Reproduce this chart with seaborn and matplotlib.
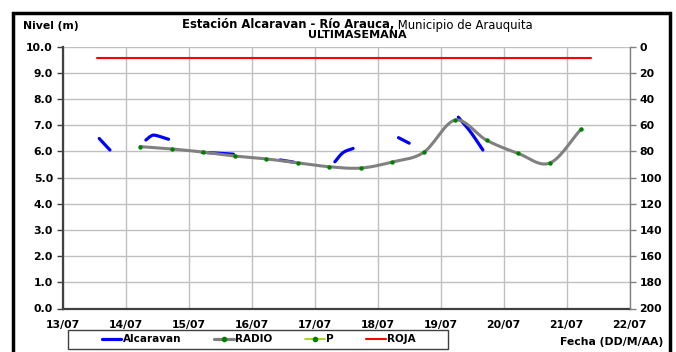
import numpy as np
import pandas as pd
import seaborn as sns
import matplotlib
matplotlib.use("Agg")
import matplotlib.pyplot as plt
from matplotlib.lines import Line2D
from matplotlib.patches import Rectangle

# time axis: days counted from 13/07 00:00
day_labels = ["13/07", "14/07", "15/07", "16/07", "17/07",
              "18/07", "19/07", "20/07", "21/07", "22/07"]

# RADIO series (every 12 h)
t_radio = [1.23, 1.73, 2.23, 2.73, 3.23, 3.73, 4.23, 4.73,
           5.23, 5.73, 6.23, 6.73, 7.23, 7.73, 8.23]
h_radio = [6.18, 6.09, 5.97, 5.82, 5.71, 5.56, 5.41, 5.36,
           5.59, 5.96, 7.19, 6.42, 5.92, 5.55, 6.85]

# Alcaravan series (gaps = NaN)
t_alc = [0.58, 0.66, 0.75, np.nan,
         1.32, 1.40, 1.47, 1.68, np.nan,
         2.21, 2.45, 2.71, np.nan,
         3.45, 3.66, np.nan,
         4.32, 4.45, 4.61, np.nan,
         5.33, 5.50, np.nan,
         6.28, 6.47, 6.67]
h_alc = [6.49, 6.28, 6.05, np.nan,
         6.43, 6.58, 6.61, 6.46, np.nan,
         5.96, 5.93, 5.89, np.nan,
         5.67, 5.59, np.nan,
         5.60, 5.95, 6.11, np.nan,
         6.52, 6.31, np.nan,
         7.30, 6.75, 6.05]

# ROJA alert level
t_roja = [0.54, 8.38]
h_roja = [9.57, 9.57]

# P (precipitation) has no values this week
t_p = []
p_vals = []


def smooth(x, y, n=16):
    # catmull-rom curve, like the smoothed lines of the original
    x = np.asarray(x, float)
    y = np.asarray(y, float)
    if len(x) < 3:
        return x, y
    px = np.r_[2 * x[0] - x[1], x, 2 * x[-1] - x[-2]]
    py = np.r_[2 * y[0] - y[1], y, 2 * y[-1] - y[-2]]
    t = np.linspace(0, 1, n, endpoint=False)[:, None]
    xs, ys = [], []
    for i in range(1, len(px) - 2):
        for p, out in ((px, xs), (py, ys)):
            p0, p1, p2, p3 = p[i - 1], p[i], p[i + 1], p[i + 2]
            c = 0.5 * ((2 * p1) + (-p0 + p2) * t
                       + (2 * p0 - 5 * p1 + 4 * p2 - p3) * t ** 2
                       + (-p0 + 3 * p1 - 3 * p2 + p3) * t ** 3)
            out.extend(c.ravel())
    xs.append(x[-1])
    ys.append(y[-1])
    return np.array(xs), np.array(ys)


# build smoothed frames
rx, ry = smooth(t_radio, h_radio)
radio_df = pd.DataFrame({"t": rx, "h": ry})

rows = []
seg = 0
cur_t, cur_h = [], []
for tt, hh in zip(t_alc + [np.nan], h_alc + [np.nan]):
    if np.isnan(tt):
        sx, sy = smooth(cur_t, cur_h, 10)
        rows.append(pd.DataFrame({"t": sx, "h": sy, "seg": seg}))
        seg += 1
        cur_t, cur_h = [], []
    else:
        cur_t.append(tt)
        cur_h.append(hh)
alc_df = pd.concat(rows, ignore_index=True)

sns.set_theme(style="white")
plt.rcParams["font.family"] = ["DejaVu Sans"]
plt.rcParams["font.weight"] = "bold"
plt.rcParams["text.color"] = "black"

W, H = 676, 352
fig = plt.figure(figsize=(W / 100, H / 100), dpi=100)
ax = fig.add_axes([62.7 / W, 1 - 308.5 / H, (629.7 - 62.7) / W, (308.5 - 46.5) / H])

ax.set_xlim(0, 9)
ax.set_ylim(0, 10)
ax.set_xticks(range(10))
ax.set_xticklabels(day_labels)
ax.set_yticks(np.arange(0, 11, 1))
ax.set_yticklabels([f"{v:.1f}" for v in np.arange(0, 11, 1)])
ax.grid(True, color="#c0c0c0", lw=1)
ax.set_axisbelow(True)

sns.lineplot(data=alc_df, x="t", y="h", units="seg", estimator=None,
             color="#0000ff", lw=2.3, ax=ax, legend=False, sort=False)
sns.lineplot(data=radio_df, x="t", y="h", estimator=None, color="#808080",
             lw=2.2, ax=ax, legend=False, sort=False)
sns.scatterplot(x=t_radio, y=h_radio, color="#008000", s=10, linewidth=0,
                ax=ax, zorder=5, legend=False)
sns.lineplot(x=t_roja, y=h_roja, color="#ff0000", lw=1.5, ax=ax,
             legend=False)
ax.set_xlabel("")
ax.set_ylabel("")

for s in ["top", "right"]:
    ax.spines[s].set_visible(False)
for s in ["left", "bottom"]:
    ax.spines[s].set_color("#404040")
    ax.spines[s].set_linewidth(1.6)
ax.tick_params(axis="both", which="major", direction="out", length=4,
               width=1, color="#404040", labelcolor="black", labelsize=7.8,
               pad=3)
ax.tick_params(axis="x", pad=4)

ax2 = ax.twinx()
ax2.set_ylim(200, 0)
ax2.set_yticks(np.arange(0, 201, 20))
for s in ["top", "left", "bottom"]:
    ax2.spines[s].set_visible(False)
ax2.spines["right"].set_color("#808080")
ax2.spines["right"].set_linewidth(1)
ax2.tick_params(axis="y", direction="out", length=4, width=1,
                color="#808080", labelcolor="black", labelsize=7.8, pad=3)
ax2.grid(False)

# titles and axis captions
fig.text(22.7 / W, 1 - 26 / H, "Nivel (m)", fontsize=7.8, fontweight="bold",
         va="center", ha="left")
t1 = fig.text(181.7 / W, 1 - 25 / H, "Estación Alcaravan - Río Arauca,",
              fontsize=8.4, fontweight="bold", va="center", ha="left")
fig.canvas.draw()
bb = t1.get_window_extent(renderer=fig.canvas.get_renderer())
fig.text(bb.x1 / W, 1 - 25 / H, " Municipio de Arauquita", fontsize=8.4,
         fontweight="normal", va="center", ha="left")
fig.text(357 / W, 1 - 35.5 / H, "ULTIMASEMANA", fontsize=8,
         fontweight="bold", va="center", ha="center")
fig.text(663 / W, 1 - 342 / H, "Fecha (DD/M/AA)", fontsize=7.8,
         fontweight="bold", va="center", ha="right")

# legend
handles = [
    Line2D([], [], color="#0000ff", lw=2.3),
    Line2D([], [], color="#808080", lw=2.3, marker="o", ms=3,
           mfc="#008000", mec="#008000"),
    Line2D([], [], color="#99cc00", lw=1.2, marker="o", ms=3,
           mfc="#008000", mec="#008000"),
    Line2D([], [], color="#ff0000", lw=1.5),
]
fig.legend(handles, ["Alcaravan", "RADIO", "P", "ROJA"], ncol=4,
           loc="center left", bbox_to_anchor=(101.7 / W, 1 - 339.5 / H),
           frameon=False, fontsize=7.5, handlelength=1.9, handletextpad=0.15,
           columnspacing=3.1, borderpad=0, borderaxespad=0, numpoints=1)
fig.add_artist(Rectangle((68 / W, 1 - 349 / H), 380 / W, 19 / H,
                         transform=fig.transFigure, fill=False,
                         edgecolor="#404040", lw=1))

# outer frame
fig.add_artist(Rectangle((13 / W, -0.1), (670 - 13) / W, 1.1 - 13 / H,
                         transform=fig.transFigure, fill=False,
                         edgecolor="black", lw=2.5, clip_on=False))

fig.savefig("out.png", dpi=100)
